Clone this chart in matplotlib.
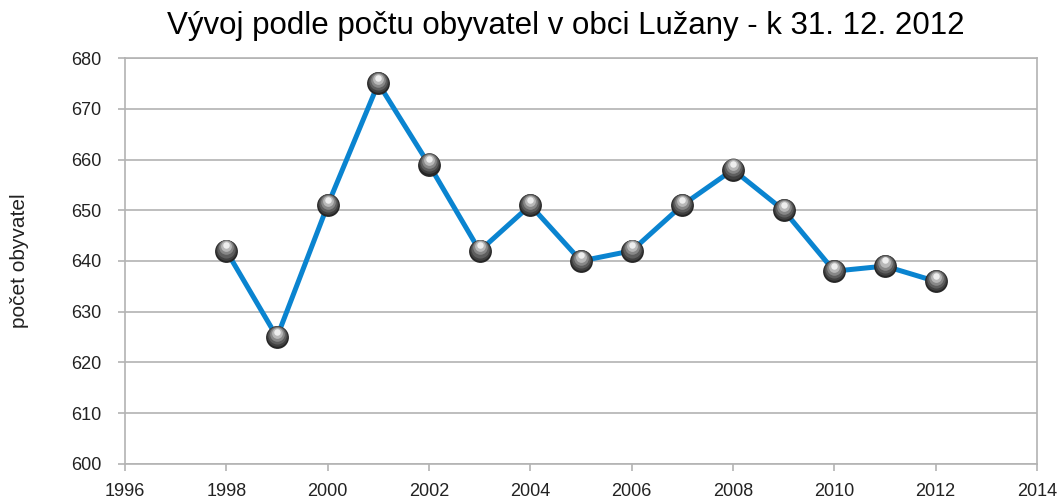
import matplotlib.pyplot as plt
import numpy as np

years = [1998, 1999, 2000, 2001, 2002, 2003, 2004, 2005, 2006, 2007, 2008, 2009, 2010, 2011, 2012]
population = [642, 625, 651, 675, 659, 642, 651, 640, 642, 651, 658, 650, 638, 639, 636]
x_ticks = list(range(1996, 2015, 2))
y_ticks = list(range(600, 681, 10))

plt.rcParams['font.family'] = ['Liberation Sans', 'DejaVu Sans']

fig = plt.figure(figsize=(10.63, 5.04), dpi=100)
ax = fig.add_axes([0.1176, 0.0794, 0.8579, 0.8055])

ax.plot(years, population, color='#0a84d0', linewidth=3.6, zorder=3)

# shaded spheres: stacked circles from dark rim to light highlight
shades = [('#262626', 270), ('#404040', 220), ('#5e5e5e', 170), ('#888888', 110), ('#b8b8b8', 60), ('#eeeeee', 22)]
for i, (c, s) in enumerate(shades):
    off = i * 0.22
    ax.scatter(years, np.array(population) + off, s=s, color=c, zorder=4 + i, linewidths=0)

ax.set_xlim(1996, 2014)
ax.set_ylim(600, 680)
ax.set_xticks(x_ticks)
ax.set_yticks(y_ticks)
ax.grid(axis='y', color='#b3b3b3', linewidth=1.2)
ax.set_axisbelow(True)
for side in ['top', 'right', 'bottom', 'left']:
    ax.spines[side].set_color('#b3b3b3')
    ax.spines[side].set_linewidth(1.2)
ax.tick_params(colors='#b3b3b3', length=5, width=1.2, labelcolor='#222222', labelsize=13)
ax.tick_params(axis='x', pad=9)
ax.tick_params(axis='y', pad=12)
ax.set_ylabel('počet obyvatel', fontsize=15, color='#222222')
ax.yaxis.set_label_coords(-0.105, 0.5)

fig.suptitle('Vývoj podle počtu obyvatel v obci Lužany - k 31. 12. 2012',
             fontsize=22.5, y=0.978, x=0.532)

plt.savefig('out.png')
